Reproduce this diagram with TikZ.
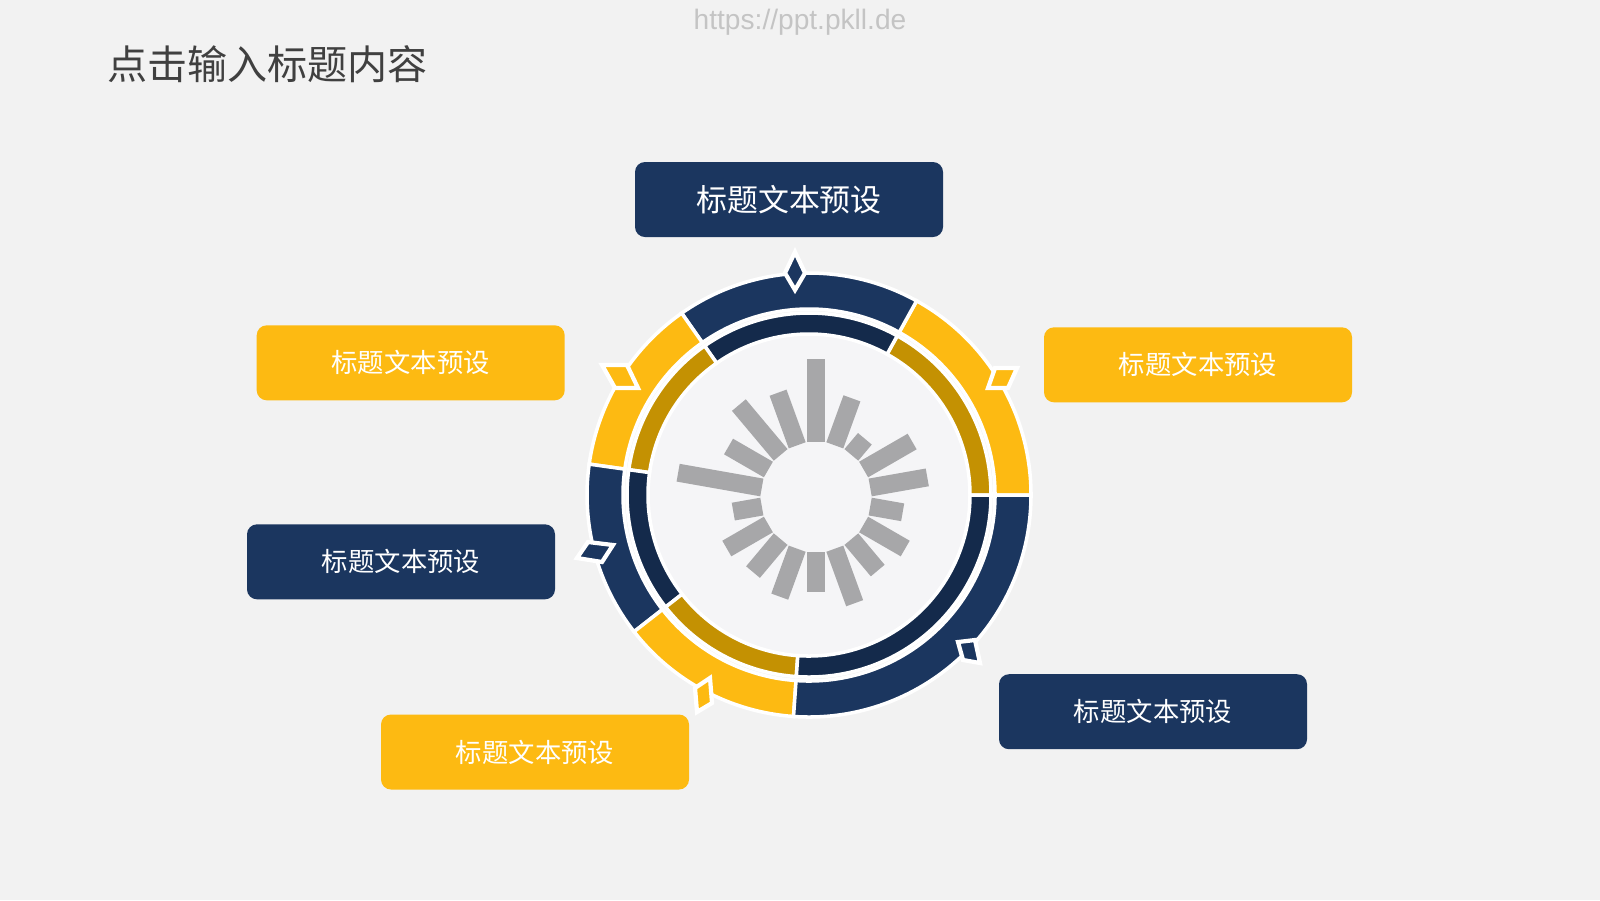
\documentclass[tikz,border=0pt]{standalone}
\usepackage{fontspec}
\setmainfont{Liberation Sans}
\newfontfamily\cjk{Noto Sans CJK SC}
\usetikzlibrary{positioning}

\definecolor{bgc}{HTML}{F2F2F2}
\definecolor{navy}{HTML}{1B365F}
\definecolor{navydk}{HTML}{142A4B}
\definecolor{gold}{HTML}{FDBA12}
\definecolor{golddk}{HTML}{C49102}
\definecolor{barc}{HTML}{A7A7A9}
\definecolor{disk}{HTML}{F5F5F7}
\definecolor{titlec}{HTML}{404040}
\definecolor{urlc}{HTML}{C4C4C4}

\begin{document}
\begin{tikzpicture}[
  labelbox/.style={rounded corners=0.1cm, minimum width=3.08cm, minimum height=0.75cm,
    text=white, font=\cjk\fontsize{7.5}{9}\selectfont},
  navybox/.style={labelbox, fill=navy},
  goldbox/.style={labelbox, fill=gold},
  seg/.style={draw=white, line width=1pt},
  notch/.style={draw=white, line width=1.2pt, line join=miter}
]
\useasboundingbox (0,0) rectangle (16,-9);
\fill[bgc] (0,0) rectangle (16,-9);

% heading and watermark
\node[anchor=west, text=titlec, font=\cjk\fontsize{11.4}{13}\selectfont] (title) at (0.95,-0.64) {点击输入标题内容};
\node[text=urlc, font=\fontsize{8}{9}\selectfont] (url) at (8.0,-0.22) {https://ppt.pkll.de};

% the two rings
\begin{scope}[shift={(8.09,-4.95)}]
\fill[disk] (0,0) circle (1.61);
\foreach \a/\b/\co/\ci in {0/61/gold/golddk, 61/125/navy/navydk, 125/172/gold/golddk,
    172/218/navy/navydk, 218/266/gold/golddk, 266/360/navy/navydk}
{
  \filldraw[seg, fill=\co] (\a:2.22) arc[start angle=\a, end angle=\b, radius=2.22]
    -- (\b:1.86) arc[start angle=\b, end angle=\a, radius=1.86] -- cycle;
  \filldraw[seg, fill=\ci] (\a:1.82) arc[start angle=\a, end angle=\b, radius=1.82]
    -- (\b:1.61) arc[start angle=\b, end angle=\a, radius=1.61] -- cycle;
}
\end{scope}

% pointers on the outer ring
\filldraw[notch, fill=navy] (7.95,-2.52) -- (8.05,-2.73) -- (7.95,-2.90) -- (7.85,-2.73) -- cycle;
\filldraw[notch, fill=gold] (6.02,-3.65) -- (6.27,-3.65) -- (6.38,-3.88) -- (6.15,-3.88) -- cycle;
\filldraw[notch, fill=gold] (9.95,-3.68) -- (10.17,-3.68) -- (10.08,-3.88) -- (9.88,-3.88) -- cycle;
\filldraw[notch, fill=navy] (5.88,-5.42) -- (6.13,-5.45) -- (6.02,-5.62) -- (5.77,-5.58) -- cycle;
\filldraw[notch, fill=gold] (6.95,-6.88) -- (7.10,-6.78) -- (7.12,-7.03) -- (6.97,-7.12) -- cycle;
\filldraw[notch, fill=navy] (9.58,-6.42) -- (9.75,-6.40) -- (9.80,-6.63) -- (9.63,-6.60) -- cycle;

% bars in the middle
\begin{scope}[shift={(8.16,-4.97)}]
\foreach \a/\l in {90/1.38, 70/1.05, 50/0.76, 30/1.11, 10/1.13, -10/0.88, -30/1.03,
    -50/0.96, -70/1.13, -90/0.95, -110/1.06, -130/0.98, -150/1.03, -170/0.84,
    170/1.40, 150/1.01, 130/1.20, 110/1.11}
  \fill[barc, rotate=\a] (0.55,-0.09) rectangle (\l,0.09);
\end{scope}

% label boxes
\node[navybox, font=\cjk\fontsize{8.8}{10}\selectfont] (top) at (7.89,-1.995) {标题文本预设};
\node[goldbox] (upleft) at (4.107,-3.628) {标题文本预设};
\node[goldbox] (upright) at (11.98,-3.648) {标题文本预设};
\node[navybox] (left) at (4.01,-5.618) {标题文本预设};
\node[navybox] (downright) at (11.53,-7.117) {标题文本预设};
\node[goldbox] (down) at (5.35,-7.52) {标题文本预设};
\end{tikzpicture}
\end{document}
